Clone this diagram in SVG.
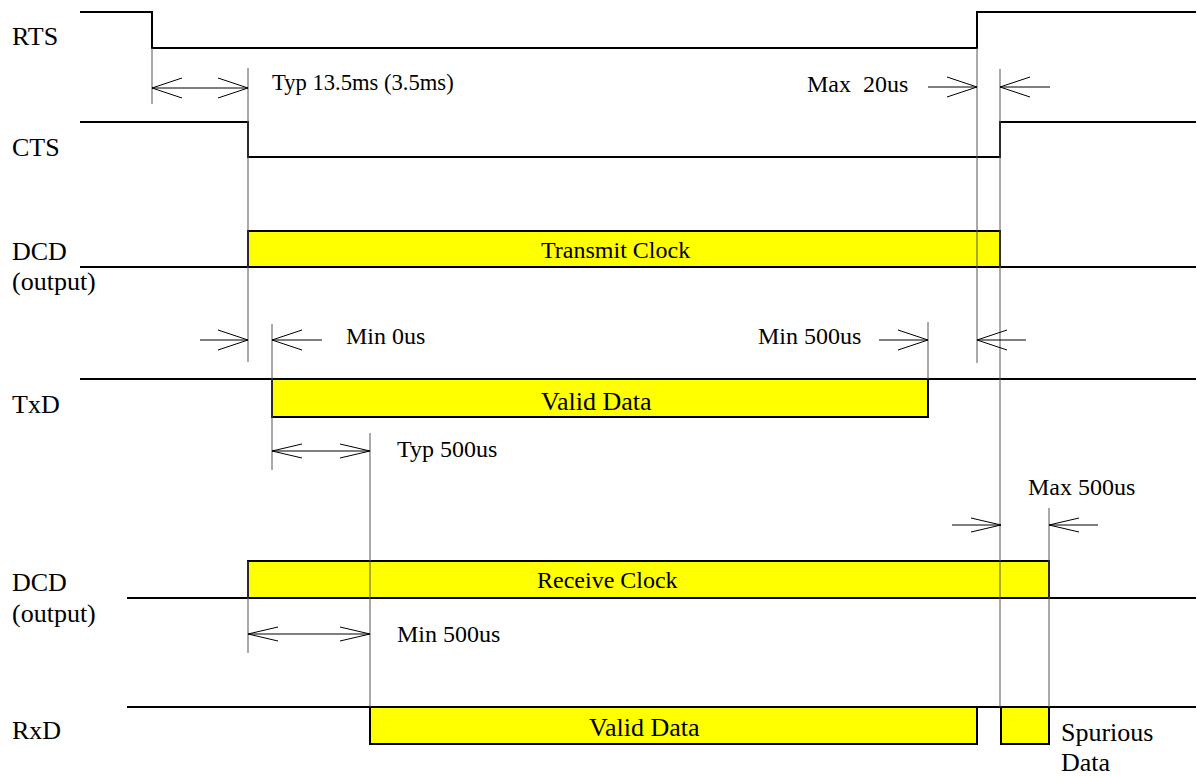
<svg xmlns="http://www.w3.org/2000/svg" width="1197" height="777" viewBox="0 0 1197 777">
<style>
  .sig { fill: none; stroke: #000; stroke-width: 2; }
  .box { fill: #ffff00; stroke: #000; stroke-width: 2; }
  .guide { fill: none; stroke: #555; stroke-width: 1; }
  .dim { fill: none; stroke: #000; stroke-width: 1; }
  .lbl { font-family: "Liberation Serif", "Times New Roman", serif; font-size: 26px; fill: #000; }
  .ann { font-family: "Liberation Serif", "Times New Roman", serif; font-size: 24px; fill: #000; white-space: pre; }
</style>
<defs>
  <marker id="ah" markerUnits="userSpaceOnUse" markerWidth="34" markerHeight="24" viewBox="-32 -12 34 24" refX="0" refY="0" orient="auto-start-reverse" overflow="visible">
    <path d="M-30,-10 L0,0 L-30,10" fill="none" stroke="#000" stroke-width="1"/>
  </marker>
  <marker id="ahs" markerUnits="userSpaceOnUse" markerWidth="34" markerHeight="24" viewBox="-32 -12 34 24" refX="0" refY="0" orient="auto-start-reverse" overflow="visible">
    <path d="M-30,-7 L0,0 L-30,7" fill="none" stroke="#000" stroke-width="1"/>
  </marker>
</defs>
<rect x="0" y="0" width="1197" height="777" fill="#fff"/>

<g id="rts">
  <polyline class="sig" points="80,12 152,12 152,48 977,48 977,12 1196,12"/>
  <text class="lbl" x="12" y="45">RTS</text>
</g>
<g id="cts">
  <polyline class="sig" points="80,122 248,122 248,157 1000,157 1000,122 1196,122"/>
  <text class="lbl" x="12" y="156">CTS</text>
</g>
<g id="dcd1">
  <line class="sig" x1="80" y1="267" x2="1196" y2="267"/>
  <rect class="box" x="248" y="231" width="752" height="36"/>
  <text class="ann" x="541" y="258">Transmit Clock</text>
  <text class="lbl" x="12" y="260">DCD</text>
  <text class="lbl" x="12" y="290">(output)</text>
</g>
<g id="txd">
  <line class="sig" x1="80" y1="379" x2="1196" y2="379"/>
  <rect class="box" x="272" y="379" width="656" height="38"/>
  <text class="lbl" x="541" y="410">Valid Data</text>
  <text class="lbl" x="12" y="413">TxD</text>
</g>
<g id="dcd2">
  <line class="sig" x1="127" y1="598" x2="1196" y2="598"/>
  <rect class="box" x="248" y="561" width="801" height="37"/>
  <text class="ann" x="537" y="588">Receive Clock</text>
  <text class="lbl" x="12" y="591">DCD</text>
  <text class="lbl" x="12" y="622">(output)</text>
</g>
<g id="rxd">
  <line class="sig" x1="127" y1="707" x2="1196" y2="707"/>
  <rect class="box" x="370" y="707" width="607" height="37"/>
  <rect class="box" x="1001" y="707" width="48" height="37"/>
  <text class="lbl" x="589" y="736">Valid Data</text>
  <text class="lbl" x="12" y="739">RxD</text>
  <text class="lbl" x="1061" y="741">Spurious</text>
  <text class="lbl" x="1061" y="771">Data</text>
</g>

<g id="connectors">
  <line class="guide" x1="152" y1="48" x2="152" y2="104"/>
  <line class="guide" x1="248" y1="68" x2="248" y2="362"/>
  <line class="guide" x1="977" y1="48" x2="977" y2="363"/>
  <line class="guide" x1="1000" y1="69" x2="1000" y2="707"/>
  <line class="guide" x1="272" y1="324" x2="272" y2="470"/>
  <line class="guide" x1="928" y1="322" x2="928" y2="379"/>
  <line class="guide" x1="370" y1="433" x2="370" y2="707"/>
  <line class="guide" x1="1049" y1="508" x2="1049" y2="707"/>
  <line class="guide" x1="248" y1="561" x2="248" y2="653"/>

  <line class="dim" x1="152" y1="88" x2="248" y2="88" marker-start="url(#ah)" marker-end="url(#ah)"/>
  <line class="dim" x1="928" y1="87" x2="977" y2="87" marker-end="url(#ah)"/>
  <line class="dim" x1="1050" y1="87" x2="1000" y2="87" marker-end="url(#ah)"/>
  <line class="dim" x1="200" y1="340" x2="248" y2="340" marker-end="url(#ah)"/>
  <line class="dim" x1="322" y1="340" x2="272" y2="340" marker-end="url(#ah)"/>
  <line class="dim" x1="879" y1="340" x2="928" y2="340" marker-end="url(#ah)"/>
  <line class="dim" x1="1026" y1="340" x2="977" y2="340" marker-end="url(#ah)"/>
  <line class="dim" x1="272" y1="451" x2="370" y2="451" marker-start="url(#ahs)" marker-end="url(#ahs)"/>
  <line class="dim" x1="952" y1="525" x2="1001" y2="525" marker-end="url(#ahs)"/>
  <line class="dim" x1="1098" y1="525" x2="1049" y2="525" marker-end="url(#ahs)"/>
  <line class="dim" x1="248" y1="634" x2="370" y2="634" marker-start="url(#ahs)" marker-end="url(#ahs)"/>

  <text class="ann" x="272" y="90" style="font-size:22.6px">Typ 13.5ms (3.5ms)</text>
  <text class="ann" x="807" y="92">Max  20us</text>
  <text class="ann" x="346" y="344">Min 0us</text>
  <text class="ann" x="758" y="344">Min 500us</text>
  <text class="ann" x="397" y="457">Typ 500us</text>
  <text class="ann" x="1028" y="495">Max 500us</text>
  <text class="ann" x="397" y="642">Min 500us</text>
</g>
</svg>
